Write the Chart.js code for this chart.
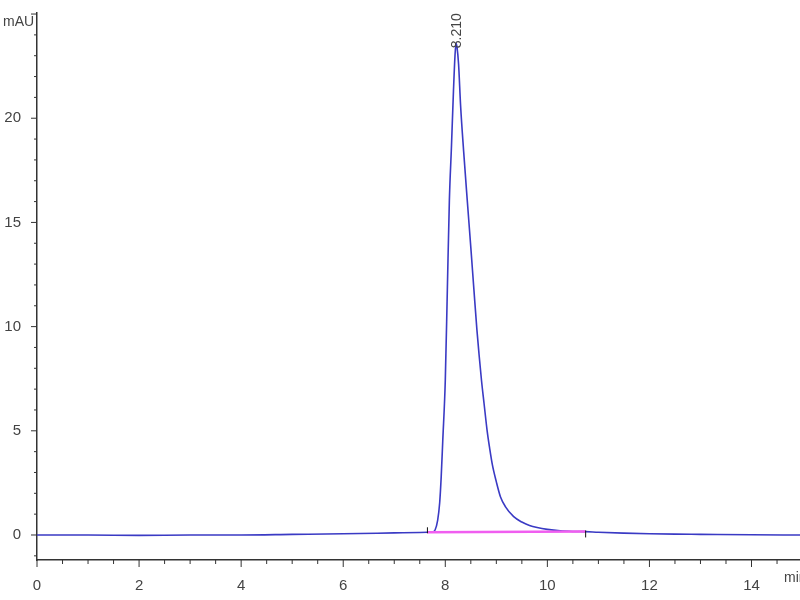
<!DOCTYPE html>
<html>
<head>
<meta charset="utf-8">
<script src="https://cdn.jsdelivr.net/npm/chart.js@4"></script>
<style>
  html, body { margin: 0; padding: 0; background: #fff; }
  #wrap { width: 800px; height: 600px; }
</style>
</head>
<body>
<div id="wrap"><canvas id="myChart" width="800" height="600"></canvas></div>
<script>
// retention time (min) and detector signal (mAU)
var times = [0, 1, 2, 3, 4, 5, 6, 7, 7.5, 7.65, 7.75, 7.8, 7.85, 7.89, 7.92, 7.95, 8.0, 8.04,
  8.08, 8.12, 8.16, 8.19, 8.21, 8.23, 8.26, 8.3, 8.36, 8.43, 8.5, 8.56, 8.62, 8.66, 8.71,
  8.76, 8.82, 8.87, 8.92, 9.0, 9.08, 9.18, 9.34, 9.5, 9.65, 9.8, 10.0, 10.25, 10.5, 10.75,
  11.0, 11.5, 12, 12.5, 13, 14, 15];
var signal = [0.0, 0.0, -0.02, 0.0, 0.0, 0.03, 0.06, 0.1, 0.12, 0.13, 0.15, 0.24, 0.7, 1.55,
  2.8, 4.5, 7.43, 11.75, 16.07, 18.6, 21.3, 23.0, 23.6, 23.4, 22.6, 20.6, 18.4, 16.07, 13.8,
  11.8, 9.83, 8.7, 7.4, 6.3, 5.0, 4.15, 3.4, 2.55, 1.84, 1.35, 0.88, 0.62, 0.46, 0.36, 0.27,
  0.2, 0.17, 0.16, 0.13, 0.09, 0.06, 0.04, 0.03, 0.01, 0.0];

// integration baseline
var baseTimes = [7.65, 10.75];
var baseSignal = [0.13, 0.17];

var peakTime = 8.21;
var peakHeight = 23.6;
var peakLabel = "8.210";

var xLabels = [0, 2, 4, 6, 8, 10, 12, 14];
var yLabels = [0, 5, 10, 15, 20];
var xMajorStep = 2;
var yMajorStep = 5;

function toPoints(xs, ys) {
  var pts = [];
  for (var i = 0; i < xs.length; i++) {
    pts.push({ x: xs[i], y: ys[i] });
  }
  return pts;
}

var axisFont = { family: "'Liberation Sans Narrow', 'Liberation Sans', Arial, sans-serif", size: 15 };

var extras = {
  id: "extras",
  afterDraw: function(chart) {
    var ctx = chart.ctx;
    var xs = chart.scales.x;
    var ys = chart.scales.y;
    ctx.save();
    ctx.strokeStyle = "#333";
    ctx.lineWidth = 1;
    // axis tick marks (major longer)
    xs.ticks.forEach(function(t) {
      var px = xs.getPixelForValue(t.value);
      var len = t.value % xMajorStep === 0 ? 7 : 4;
      ctx.beginPath();
      ctx.moveTo(px, xs.top);
      ctx.lineTo(px, xs.top + len);
      ctx.stroke();
    });
    ys.ticks.forEach(function(t) {
      if (!Number.isInteger(t.value)) return;
      var py = ys.getPixelForValue(t.value);
      var len = t.value % yMajorStep === 0 ? 6 : 3;
      ctx.beginPath();
      ctx.moveTo(ys.right - len, py);
      ctx.lineTo(ys.right, py);
      ctx.stroke();
    });
    // integration start / end marks
    ctx.strokeStyle = "#111";
    ctx.beginPath();
    var p0 = xs.getPixelForValue(baseTimes[0]);
    var q0 = ys.getPixelForValue(baseSignal[0]);
    ctx.moveTo(p0, q0 - 5);
    ctx.lineTo(p0, q0 + 1);
    var p1 = xs.getPixelForValue(baseTimes[1]);
    var q1 = ys.getPixelForValue(baseSignal[1]);
    ctx.moveTo(p1, q1 - 1);
    ctx.lineTo(p1, q1 + 6);
    ctx.stroke();

    // unit labels
    ctx.fillStyle = "#444";
    ctx.font = "14px 'Liberation Sans Narrow', 'Liberation Sans', Arial, sans-serif";
    ctx.textBaseline = "middle";
    ctx.textAlign = "left";
    ctx.fillText("mAU", 3, 22);
    ctx.fillText("min", 784, 578);

    // peak retention time label, rotated
    var px = xs.getPixelForValue(peakTime);
    var py = ys.getPixelForValue(peakHeight);
    ctx.translate(px + 1, py + 5);
    ctx.rotate(-Math.PI / 2);
    ctx.font = "14px 'Liberation Sans', Arial, sans-serif";
    ctx.fillStyle = "#444";
    ctx.textAlign = "left";
    ctx.textBaseline = "middle";
    ctx.fillText(peakLabel, 0, 0);
    ctx.restore();
  }
};

var ctx = document.getElementById("myChart").getContext("2d");
var chart = new Chart(ctx, {
  type: "scatter",
  data: {
    datasets: [
      {
        label: "baseline",
        data: toPoints(baseTimes, baseSignal),
        showLine: true,
        borderColor: "#f05ef0",
        borderWidth: 2.5,
        pointRadius: 0
      },
      {
        label: "signal",
        data: toPoints(times, signal),
        showLine: true,
        borderColor: "#3a3ac4",
        borderWidth: 1.6,
        pointRadius: 0,
        cubicInterpolationMode: "monotone"
      }
    ]
  },
  options: {
    responsive: false,
    animation: false,
    layout: { padding: { top: 13, right: 0, left: 0, bottom: 0 } },
    plugins: {
      legend: { display: false },
      tooltip: { enabled: false }
    },
    scales: {
      x: {
        type: "linear",
        position: "bottom",
        min: 0,
        max: 14.95,
        grid: { display: false },
        border: { display: true, color: "#333", width: 1.5 },
        ticks: {
          stepSize: 0.5,
          autoSkip: false,
          maxRotation: 0,
          includeBounds: false,
          padding: 9,
          color: "#444",
          font: axisFont,
          callback: function(v) { return xLabels.indexOf(v) >= 0 ? v : ""; }
        },
        afterFit: function(scale) {
          scale.height = 40;
          scale.paddingLeft = 0;
          scale.paddingRight = 0;
        }
      },
      y: {
        type: "linear",
        min: -1.2,
        max: 25.05,
        grid: { display: false },
        border: { display: true, color: "#333", width: 1.5 },
        ticks: {
          stepSize: 1,
          autoSkip: false,
          includeBounds: false,
          padding: 8,
          color: "#444",
          font: axisFont,
          callback: function(v) { return yLabels.indexOf(v) >= 0 ? v : ""; }
        },
        afterFit: function(scale) {
          scale.width = 37;
          scale.paddingTop = 0;
          scale.paddingBottom = 0;
        }
      }
    }
  },
  plugins: [extras]
});
</script>
</body>
</html>
